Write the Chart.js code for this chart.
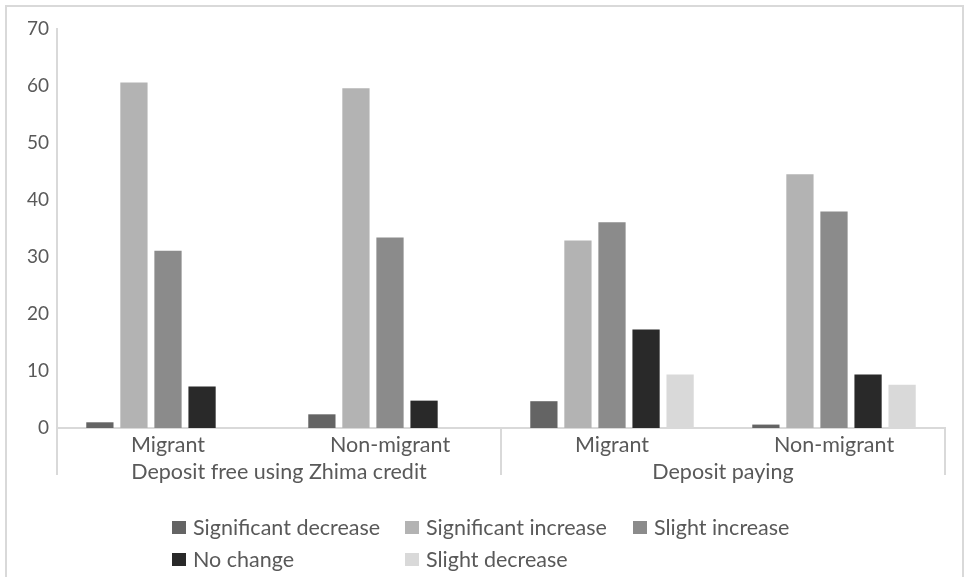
<!DOCTYPE html>
<html>
<head>
<meta charset="utf-8">
<script src="https://cdn.jsdelivr.net/npm/chart.js@4.4.1/dist/chart.umd.min.js"></script>
<style>
  html, body { margin: 0; padding: 0; background: #fff; }
  #frame {
    position: absolute; left: 5px; top: 5px; width: 959px; height: 580px;
    border: 2px solid #d9d9d9; box-sizing: border-box;
  }
  #wrap { position: absolute; left: 0; top: 0; width: 965px; height: 577px; }
  #legend {
    position: absolute; left: 172px; top: 514px;
    font-family: Lato, "Open Sans", sans-serif; font-size: 21.5px; color: #595959;
  }
  #legend .grid {
    display: grid; grid-template-columns: 233px 228px auto;
    row-gap: 6px;
  }
  #legend .item { display: flex; align-items: center; white-space: nowrap; line-height: 26px; }
  #legend .box { width: 14px; height: 13px; margin-right: 7px; }
</style>
</head>
<body>
<div id="frame"></div>
<div id="wrap"><canvas id="chart"></canvas></div>
<div id="legend"><div class="grid"></div></div>
<script>
const groups = ['Deposit free using Zhima credit', 'Deposit paying'];
const categories = ['Migrant', 'Non-migrant', 'Migrant', 'Non-migrant'];

const seriesNames = ['Significant decrease', 'Significant increase', 'Slight increase', 'No change', 'Slight decrease'];
const seriesColors = ['#646464', '#b3b3b3', '#8b8b8b', '#292929', '#d9d9d9'];

const significantDecrease = [1.0, 2.4, 4.7, 0.6];
const significantIncrease = [60.6, 59.6, 32.9, 44.5];
const slightIncrease = [31.1, 33.4, 36.1, 38.0];
const noChange = [7.3, 4.8, 17.3, 9.4];
const slightDecrease = [null, null, 9.4, 7.6];

const yTicks = [0, 10, 20, 30, 40, 50, 60, 70];

const seriesValues = [significantDecrease, significantIncrease, slightIncrease, noChange, slightDecrease];
const textColor = '#595959';
const axisColor = '#d9d9d9';
const fontFamily = 'Lato, "Open Sans", sans-serif';

// vertical separators under the axis: outer edges and between the two groups
const groupSeparators = {
  id: 'groupSeparators',
  afterDraw(chart) {
    const ctx = chart.ctx;
    const x = chart.scales.x;
    const area = chart.chartArea;
    const mid = (x.getPixelForValue(1) + x.getPixelForValue(2)) / 2;
    ctx.save();
    ctx.strokeStyle = axisColor;
    ctx.lineWidth = 2;
    [area.left, mid, area.right].forEach(px => {
      ctx.beginPath();
      ctx.moveTo(px, area.bottom);
      ctx.lineTo(px, area.bottom + 47);
      ctx.stroke();
    });
    ctx.restore();
  }
};

new Chart(document.getElementById('chart'), {
  type: 'bar',
  data: {
    labels: categories,
    datasets: seriesNames.map((name, i) => ({
      label: name,
      data: seriesValues[i],
      backgroundColor: seriesColors[i],
      borderWidth: 0,
      categoryPercentage: 0.767,
      barPercentage: 0.8
    }))
  },
  options: {
    responsive: true,
    maintainAspectRatio: false,
    animation: false,
    layout: { padding: { top: 29, right: 20, bottom: 78, left: 0 } },
    plugins: { legend: { display: false }, tooltip: { enabled: false } },
    scales: {
      y: {
        min: 0,
        max: 70,
        afterBuildTicks: scale => { scale.ticks = yTicks.map(v => ({ value: v })); },
        afterFit: scale => { scale.width = 57; },
        grid: { display: false, drawTicks: false },
        border: { display: true, color: axisColor, width: 2 },
        ticks: { color: textColor, font: { family: fontFamily, size: 19 }, padding: 8 }
      },
      x: {
        afterFit: scale => { scale.height = 31; },
        grid: { display: false, drawTicks: false },
        border: { display: true, color: axisColor, width: 2 },
        ticks: { color: textColor, font: { family: fontFamily, size: 21.5 }, padding: 4, maxRotation: 0 }
      },
      x2: {
        type: 'category',
        position: 'bottom',
        labels: groups,
        offset: true,
        afterFit: scale => { scale.height = 40; },
        grid: { display: false, drawTicks: false },
        border: { display: false },
        ticks: { color: textColor, font: { family: fontFamily, size: 21.5 }, padding: 0, maxRotation: 0 }
      }
    }
  },
  plugins: [groupSeparators]
});

// legend laid out in columns
const legendGrid = document.querySelector('#legend .grid');
seriesNames.forEach((name, i) => {
  const item = document.createElement('div');
  item.className = 'item';
  item.innerHTML = `<span class="box" style="background:${seriesColors[i]}"></span><span>${name}</span>`;
  legendGrid.appendChild(item);
});
</script>
</body>
</html>
